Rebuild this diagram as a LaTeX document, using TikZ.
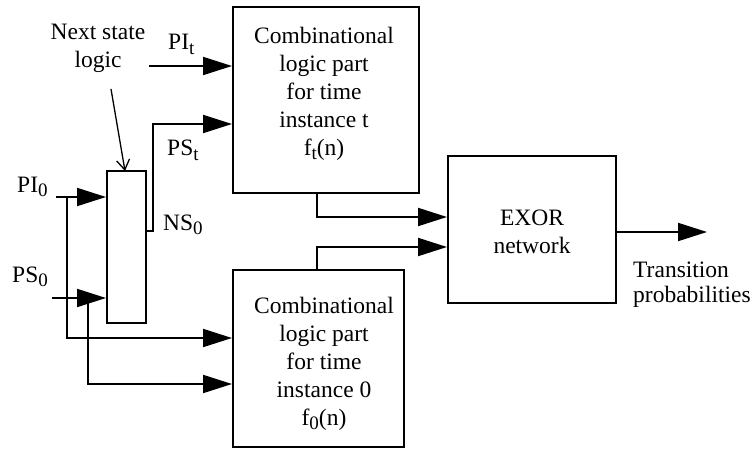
\documentclass[tikz,border=0pt]{standalone}
\usepackage{fontspec}
\setmainfont{Liberation Serif}
\usetikzlibrary{arrows.meta}
\newcommand{\lsub}[1]{\raisebox{-0.45ex}{\fontsize{19}{19}\selectfont #1}}
\begin{document}
\begin{tikzpicture}[x=1pt,y=-1pt,
  every node/.style={font=\fontsize{23.5}{28}\selectfont},
  blk/.style={draw,line width=2pt,inner sep=0pt},
  txt/.style={inner sep=0pt,align=center},
  arr/.style={line width=2pt,-{Triangle[length=29pt,width=18pt]}},
  lbl/.style={inner sep=0pt,anchor=base west}]
\useasboundingbox (0,0) rectangle (754,449);
% boxes
\node[blk,minimum width=186pt,minimum height=186pt] (ctop) at (326,100) {};
\node[blk,minimum width=171pt,minimum height=177pt] (cbot) at (318.5,358.5) {};
\node[blk,minimum width=168pt,minimum height=147pt] (exor) at (532,229.5) {};
\node[blk,minimum width=39pt,minimum height=152pt] (nsl) at (126.5,247) {};
% box texts
\node[txt] (ttop) at (324,93.5) {Combinational\\logic part\\for time\\instance t\\f\lsub{t}(n)};
\node[txt] (tbot) at (324,363.5) {Combinational\\logic part\\for time\\instance 0\\f\lsub{0}(n)};
\node[txt] (texor) at (532,232) {EXOR\\network};
\node[txt,align=left,anchor=west,font=\fontsize{23.5}{25}\selectfont] (ttrans) at (633,285) {Transition\\probabilities};
\node[txt] (tnsl) at (98,48) {Next state\\logic};
% labels
\node[lbl] (lpit) at (168,50) {PI\lsub{t}};
\node[lbl] (lpst) at (167,156) {PS\lsub{t}};
\node[lbl] (lpi0) at (17,192) {PI\lsub{0}};
\node[lbl] (lns0) at (163,230) {NS\lsub{0}};
\node[lbl] (lps0) at (12,282) {PS\lsub{0}};
% coordinates
\coordinate (pit) at (149,66);
\coordinate (ns0) at (146,231);
\coordinate (pstb) at (153,124);
\coordinate (pi0) at (56,197);
\coordinate (pi0b) at (67,197);
\coordinate (ps0) at (52,298);
\coordinate (ps0b) at (88,298);
\coordinate (ctopout) at (317,193);
\coordinate (cbotout) at (317,270);
\coordinate (outend) at (707,232);
\coordinate (nslarr) at (111,89);
% connectors
\draw[arr] (pit) -- (pit -| ctop.west);
\draw[arr] (ns0) -| (pstb) -- (pstb -| ctop.west);
\draw[arr] (pi0) -- (pi0 -| nsl.west);
\draw[arr] (pi0b) |- (cbot.west |- 0,338);
\draw[arr] (ps0) -- (ps0 -| nsl.west);
\draw[arr] (ps0b) |- (cbot.west |- 0,384);
\draw[arr] (ctopout) |- (exor.west |- 0,217);
\draw[arr] (cbotout) |- (exor.west |- 0,247);
\draw[arr] (exor.east |- outend) -- (outend);
\draw[line width=1.3pt,-{Straight Barb[length=10pt,width=13pt]}] (nslarr) -- (125,171);
\end{tikzpicture}
\end{document}
